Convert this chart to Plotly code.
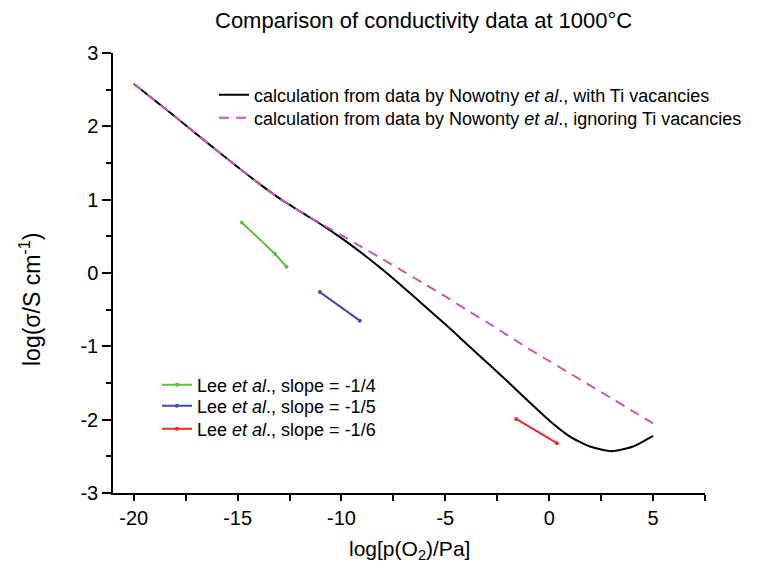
import plotly.graph_objects as go

# log pO2 grid for the calculated curves
x_calc = [-20, -19, -18, -17, -16, -15, -14, -13, -12, -11, -10, -9, -8, -7, -6,
          -5, -4, -3, -2, -1, 0, 1, 2, 3, 4, 5]
# with Ti vacancies (solid black)
y_with_vac = [2.58, 2.355, 2.13, 1.90, 1.67, 1.445, 1.225, 1.02, 0.84, 0.665, 0.475,
              0.265, 0.04, -0.20, -0.45, -0.70, -0.96, -1.22, -1.48, -1.75, -2.01,
              -2.23, -2.37, -2.43, -2.37, -2.22]
# ignoring Ti vacancies (dashed magenta)
y_no_vac = [2.58, 2.355, 2.13, 1.90, 1.67, 1.445, 1.225, 1.02, 0.84, 0.675, 0.515,
            0.35, 0.185, 0.02, -0.15, -0.32, -0.50, -0.67, -0.85, -1.03, -1.20,
            -1.37, -1.54, -1.71, -1.88, -2.05]

# Lee et al. data
lee14_x = [-14.8, -13.2, -12.65]
lee14_y = [0.69, 0.26, 0.085]
lee15_x = [-11.04, -9.12]
lee15_y = [-0.26, -0.65]
lee16_x = [-1.59, 0.37]
lee16_y = [-1.99, -2.32]

x_ticks = [-20, -15, -10, -5, 0, 5]
x_tick_text = ["-20", "-15", "-10", "-5", "0", "5"]
y_ticks = [-3, -2, -1, 0, 1, 2, 3]
y_tick_text = ["-3", "-2", "-1", "0", "1", "2", "3"]

FONT = "Arial, Liberation Sans, sans-serif"

# figure is drawn 8px smaller to compensate for the page's default body margin
W, H = 752, 567
L, R, T, B = 105, 55, 45, 82
pw, ph = W - L - R, H - T - B


def px_x(p):
    return (p - L) / pw


def px_y(p):
    return (H - B - p) / ph


fig = go.Figure()
fig.add_trace(go.Scatter(
    x=x_calc, y=y_with_vac, mode="lines",
    line=dict(color="black", width=2, shape="spline", smoothing=0.6),
    name="calculation from data by Nowotny <i>et al</i>., with Ti vacancies", legend="legend"))
fig.add_trace(go.Scatter(
    x=x_calc, y=y_no_vac, mode="lines",
    line=dict(color="#c45ab3", width=2, dash="10px,7px", shape="spline", smoothing=0.6),
    name="calculation from data by Nowonty <i>et al</i>., ignoring Ti vacancies", legend="legend2"))
fig.add_trace(go.Scatter(
    x=lee14_x, y=lee14_y, mode="lines+markers", line=dict(color="#63bf3f", width=2),
    marker=dict(size=4, color="#63bf3f"),
    name="Lee <i>et al</i>., slope = -1/4", legend="legend3"))
fig.add_trace(go.Scatter(
    x=lee15_x, y=lee15_y, mode="lines+markers", line=dict(color="#3b4fa8", width=2),
    marker=dict(size=4, color="#3b4fa8"),
    name="Lee <i>et al</i>., slope = -1/5", legend="legend4"))
fig.add_trace(go.Scatter(
    x=lee16_x, y=lee16_y, mode="lines+markers", line=dict(color="#ee2a2a", width=2),
    marker=dict(size=4, color="#ee2a2a"),
    name="Lee <i>et al</i>., slope = -1/6", legend="legend5"))


def leg(xp, yp):
    return dict(x=px_x(xp), y=px_y(yp), xanchor="left", yanchor="middle",
                bgcolor="rgba(0,0,0,0)", font=dict(size=18, family=FONT, color="black"),
                itemwidth=30)


fig.update_layout(
    width=W, height=H,
    margin=dict(l=L, r=R, t=T, b=B),
    paper_bgcolor="white", plot_bgcolor="white",
    font=dict(family=FONT, color="black", size=20),
    title=dict(text="Comparison of conductivity data at 1000°C",
               x=207 / W, y=1 - 12 / H, xanchor="left", yanchor="middle",
               font=dict(size=22, family=FONT, color="black")),
    xaxis=dict(range=[-21, 7.5], tickvals=x_ticks, ticktext=x_tick_text,
               ticks="outside", ticklen=6, tickwidth=1.5, tickcolor="black",
               showline=True, linecolor="black", linewidth=1.5,
               showgrid=False, zeroline=False, tickfont=dict(size=20),
               minor=dict(dtick=2.5, tick0=0, ticks="outside", ticklen=6,
                          tickwidth=1.5, tickcolor="black", showgrid=False)),
    yaxis=dict(range=[-3, 3], tickvals=y_ticks, ticktext=y_tick_text,
               ticks="outside", ticklen=9, tickwidth=1.5, tickcolor="black",
               showline=True, linecolor="black", linewidth=1.5,
               showgrid=False, zeroline=False, tickfont=dict(size=20),
               minor=dict(dtick=0.5, tick0=0, ticks="outside", ticklen=5,
                          tickwidth=1.5, tickcolor="black", showgrid=False)),
    legend=leg(206, 87),
    legend2=leg(206, 110),
    legend3=leg(149, 377),
    legend4=leg(149, 398),
    legend5=leg(149, 421),
    showlegend=True,
    annotations=[
        dict(text="log[p(O<sub>2</sub>)/Pa]", xref="paper", yref="paper",
             x=px_x(401), y=px_y(542), xanchor="center", yanchor="middle",
             showarrow=False, font=dict(size=21, family=FONT)),
        dict(text="log(σ/S cm<sup>-1</sup>)", xref="paper", yref="paper",
             x=px_x(22), y=px_y(292), xanchor="center", yanchor="middle",
             textangle=-90, showarrow=False, font=dict(size=23, family=FONT)),
    ],
)

fig.write_html("out.html")
